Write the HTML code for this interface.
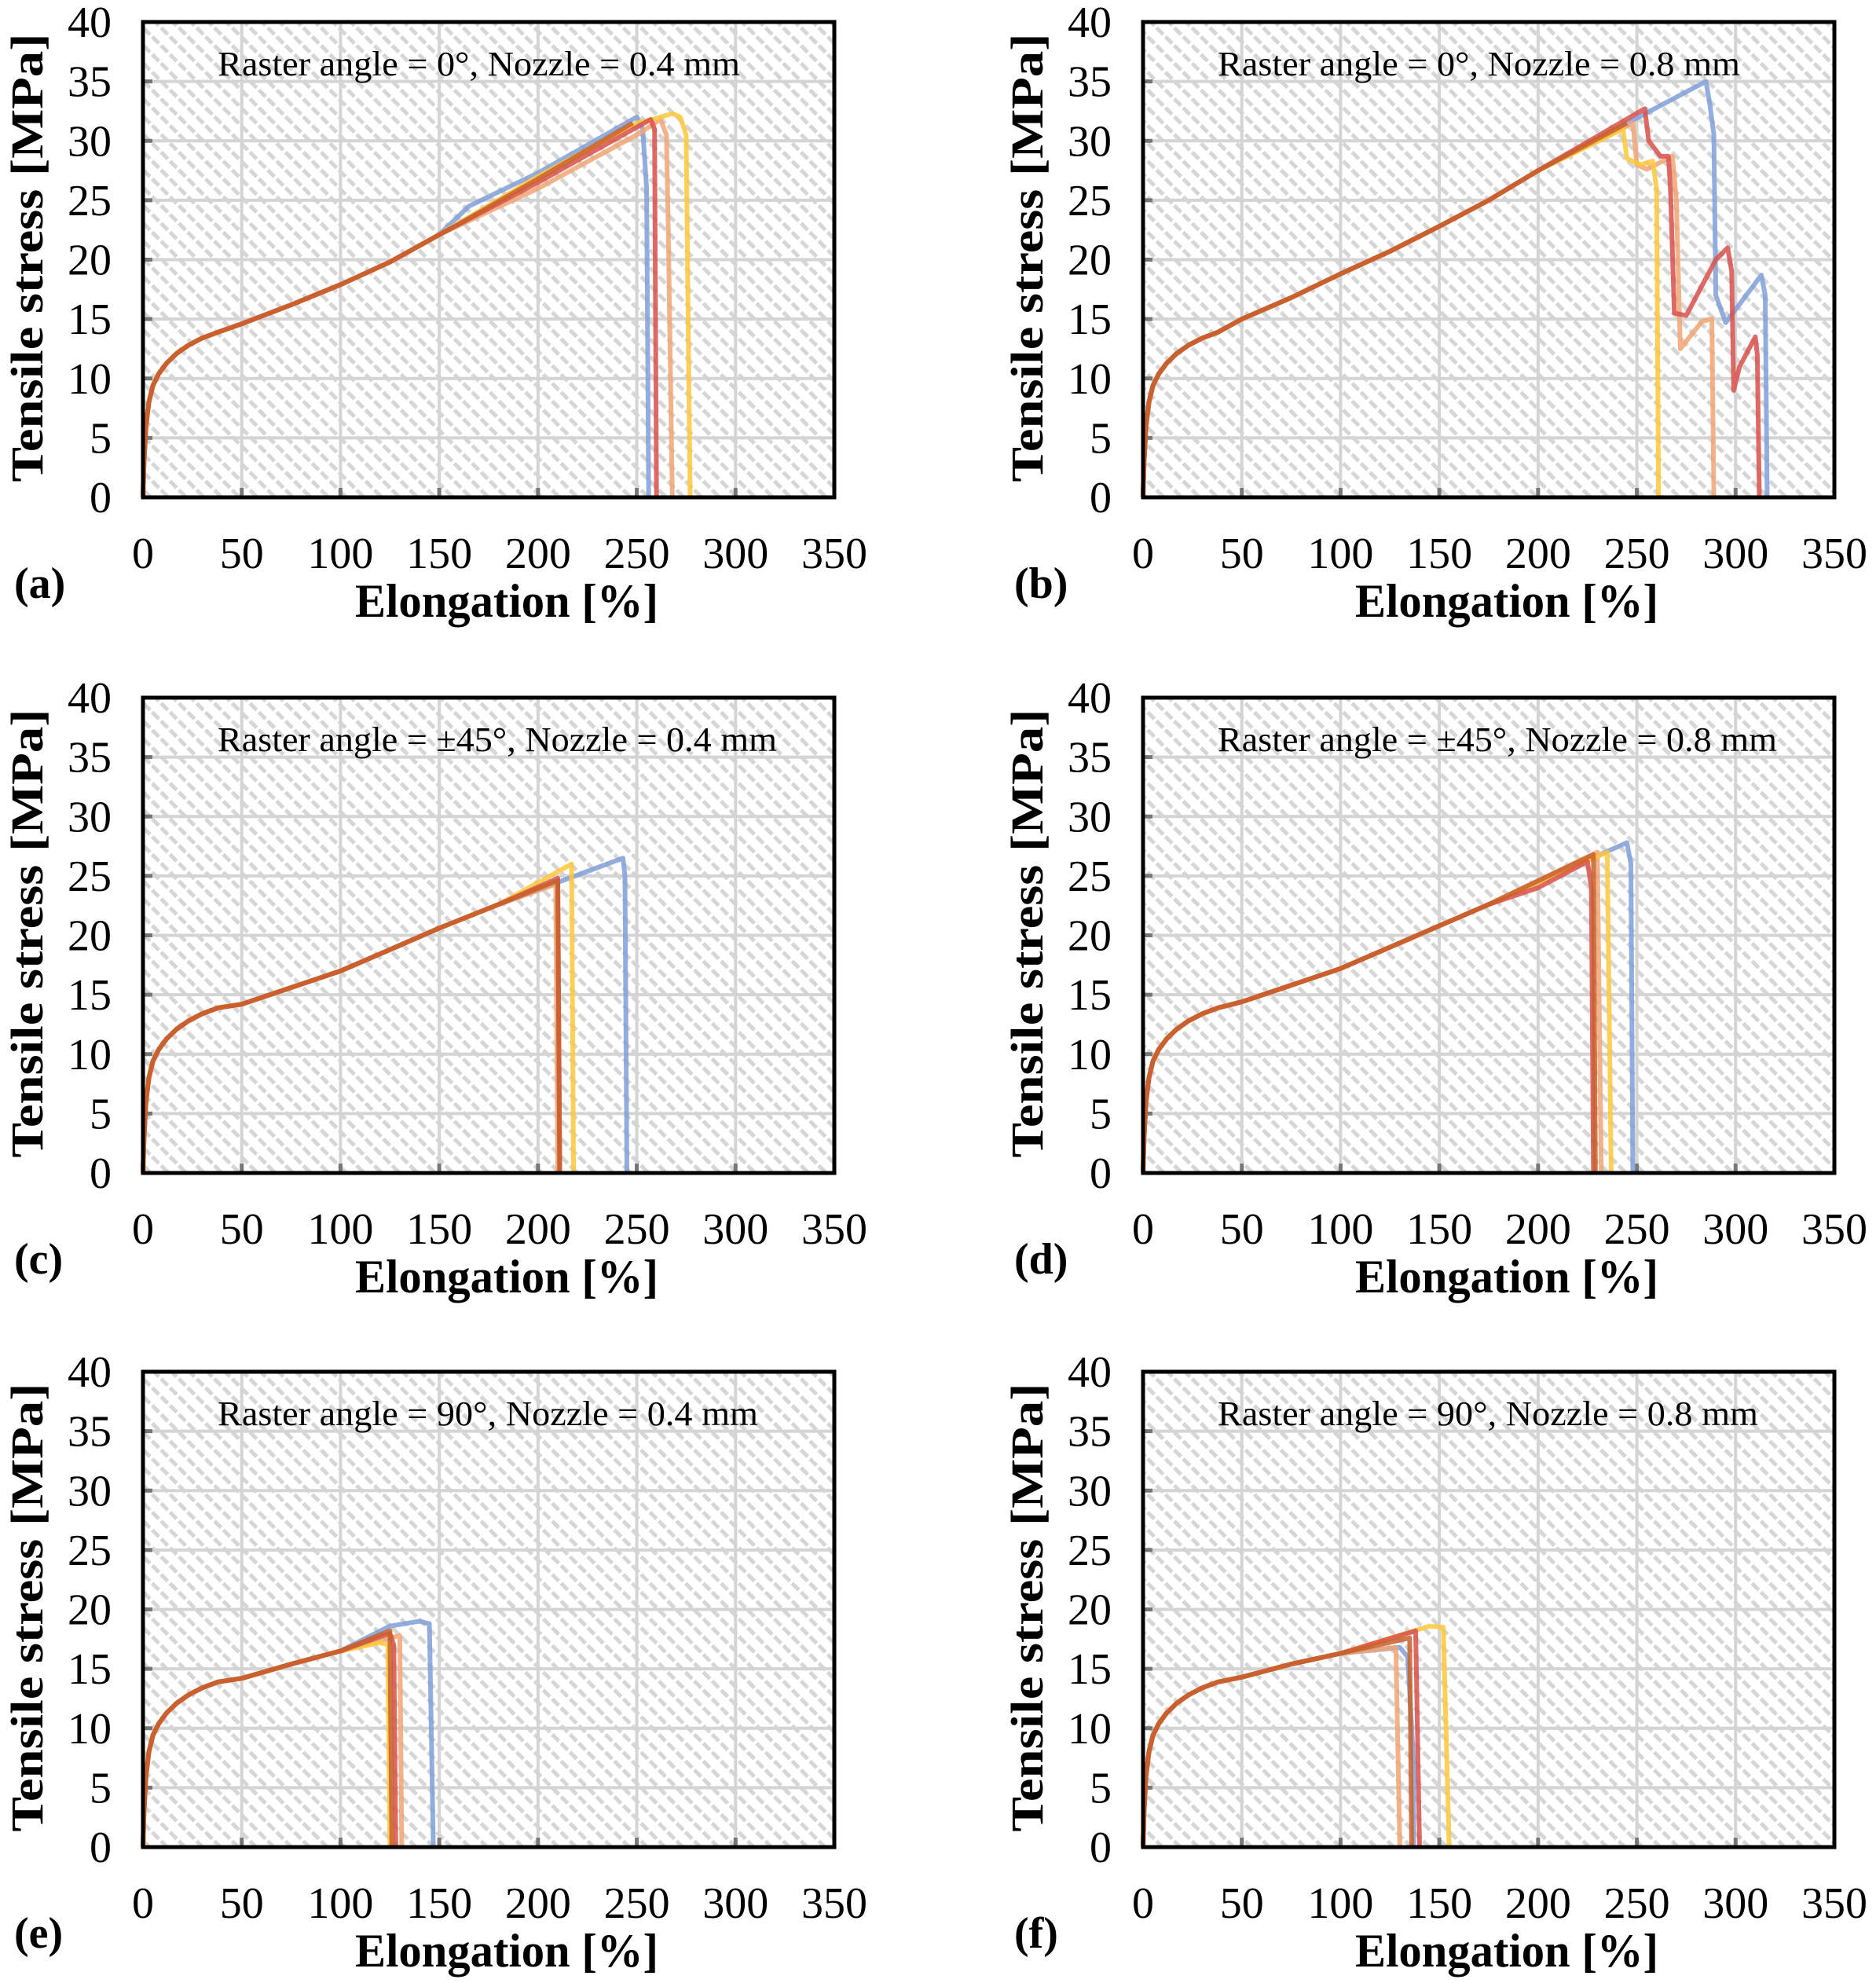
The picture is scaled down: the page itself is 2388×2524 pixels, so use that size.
<!DOCTYPE html>
<html><head><meta charset="utf-8"><style>
html,body{margin:0;padding:0;background:#fff;}
svg{display:block;}
text{font-family:"Liberation Serif",serif;fill:#000;}
</style></head>
<body>
<svg id="fig" width="2388" height="2524" viewBox="0 0 2388 2524" xmlns="http://www.w3.org/2000/svg">
<defs>
<pattern id="hatch" width="16" height="16" patternUnits="userSpaceOnUse" patternTransform="rotate(-45)">
<line x1="8" y1="0" x2="8" y2="16" stroke="#d6d6d6" stroke-width="5" stroke-dasharray="6 4"/>
</pattern>
</defs>
</svg>
<script>
const xTicks=[0,50,100,150,200,250,300,350];
const yTicks=[0,5,10,15,20,25,30,35,40];
const panelLetters=["(a)","(b)","(c)","(d)","(e)","(f)"];
const panelTitles=["Raster angle = 0°,  Nozzle  = 0.4  mm","Raster angle = 0°,  Nozzle  = 0.8  mm","Raster angle = ±45°,  Nozzle  = 0.4  mm","Raster angle = ±45°,  Nozzle  = 0.8  mm","Raster angle = 90°,  Nozzle  = 0.4  mm","Raster angle = 90°,  Nozzle  = 0.8  mm"];
const seriesNames=["blue","red","salmon","yellow","dark"];
const seriesColors=["#7f9fd8","#d9504a","#f2a474","#ffc83a","#c8602a"];
// shared initial curve (elongation %, stress MPa)
const startX=[0,0.5,1.5,3,5,8,12,17,23,30,38];
const startY=[0,3,6,8,9.4,10.4,11.3,12.1,12.8,13.4,13.9];
// panel (a)
const aBaseX=[50,75,100,125,150];
const aBaseY=[14.6,16.2,17.9,19.8,22.1];
const aTailsX=[[165,200,250,253,255,256],[200,257,259,260],[200,250,262,265,266,268],[200,250,258,268,272,275,277],[160,200,248]];
const aTailsY=[[24.5,27.3,32,31,26,0],[26.5,31.8,31,0],[26,30.5,31.8,30.5,22,0],[27,31.5,31.8,32.3,32,30.5,0],[23,26.8,31.5]];
// panel (b)
const bBaseX=[50,75,100,125,150,175,200];
const bBaseY=[15,16.8,18.8,20.7,22.8,25,27.5];
const bTailsX=[[285,287,289,290,295,313,315,316],[254,256,262,266,267,269,275,290,296,298,299,302,310,311,312],[248,250,255,268,270,272,283,288,289],[243,245,252,258,260,261],[245]];
const bTailsY=[[35,33,30.5,17,14.7,18.7,17,0],[32.7,30,28.7,28.7,26,15.5,15.3,20,21,19,9,11,13.5,12,0],[31.5,28,27.6,28.7,25,12.5,14.8,15,0],[31,28.5,28,28.3,26,0],[31.5]];
// panel (c)
const cBaseX=[50,75,100,125,150,180];
const cBaseY=[14.2,15.6,17,18.8,20.6,22.6];
const cTailsX=[[243,244,245],[210,211],[209,210],[217,218],[210,211]];
const cTailsY=[[26.5,25,0],[24.8,0],[24.3,0],[26,0],[24.6,0]];
// panel (d)
const dBaseX=[50,75,100,125,150,175];
const dBaseY=[14.4,15.8,17.2,19,20.8,22.6];
const dTailsX=[[245,247,248],[200,225,227,228],[230,232],[235,237],[228,229]];
const dTailsY=[[27.8,26,0],[24,26.2,24,0],[27,0],[27,0],[26.8,0]];
// panel (e)
const eBaseX=[50,75,100];
const eBaseY=[14.2,15.4,16.5];
const eTailsX=[[125,140,145,147],[125,127,128],[130,131],[120,124,125],[125,126]];
const eTailsY=[[18.6,19,18.8,0],[18,17,0],[17.8,0],[17.2,17,0],[18.2,0]];
// panel (f)
const fBaseX=[50,75,100];
const fBaseY=[14.3,15.4,16.3];
const fTailsX=[[130,134,137,137],[138,140],[128,130],[145,152,155],[135,136]];
const fTailsY=[[16.8,16,7,0],[18.2,0],[16.8,0],[18.6,18.5,0],[17.6,0]];

const panelBaseX=[aBaseX,bBaseX,cBaseX,dBaseX,eBaseX,fBaseX];
const panelBaseY=[aBaseY,bBaseY,cBaseY,dBaseY,eBaseY,fBaseY];
const panelTailsX=[aTailsX,bTailsX,cTailsX,dTailsX,eTailsX,fTailsX];
const panelTailsY=[aTailsY,bTailsY,cTailsY,dTailsY,eTailsY,fTailsY];

const NS="http://www.w3.org/2000/svg";
const svg=document.getElementById('fig');
function mk(tag,attrs,parent){const e=document.createElementNS(NS,tag);for(const k in attrs)e.setAttribute(k,attrs[k]);(parent||svg).appendChild(e);return e;}

const PW=880,PH=605;
const lefts=[182,1455];
const tops=[28,888,1746];
const drawOrder=[0,2,3,1,4];

for(let p=0;p<6;p++){
  const L=lefts[p%2],T=tops[Math.floor(p/2)];
  const g=mk('g',{});
  
  
  const xs=v=>L+v/350*PW;
  const ys=v=>T+PH-v/40*PH;
  const bg=mk('rect',{x:L,y:T,width:PW,height:PH,fill:'url(#hatch)'},g);
  
  
  for(const t of xTicks){if(t===0||t===350)continue;
    const l=mk('line',{x1:xs(t),x2:xs(t),y1:T,y2:T+PH,stroke:'#d4d4d4','stroke-width':4},g);
    
    }
  for(const t of yTicks){if(t===0||t===40)continue;
    const l=mk('line',{x1:L,x2:L+PW,y1:ys(t),y2:ys(t),stroke:'#d4d4d4','stroke-width':4},g);
    
    }
  for(const t of yTicks){const l=mk('line',{x1:L,x2:L+12,y1:ys(t),y2:ys(t),stroke:'#777','stroke-width':5},g);
    
    
    const tx=mk('text',{x:L-40,y:ys(t)+19,'font-size':56,'text-anchor':'end'},g);tx.textContent=t;
    
    }
  for(const t of xTicks){const l=mk('line',{x1:xs(t),x2:xs(t),y1:T+PH,y2:T+PH-12,stroke:'#777','stroke-width':5},g);
    
    
    const tx=mk('text',{x:xs(t),y:T+PH+90,'font-size':56,'text-anchor':'middle'},g);tx.textContent=t;
    
    }
  const bx=panelBaseX[p],by=panelBaseY[p];
  for(const s of drawOrder){
    const X=startX.concat(bx,panelTailsX[p][s]);
    const Y=startY.concat(by,panelTailsY[p][s]);
    const pts=X.map((x,i)=>xs(x).toFixed(1)+','+ys(Y[i]).toFixed(1)).join(' ');
    const pl=mk('polyline',{points:pts,fill:'none',stroke:seriesColors[s],'stroke-width':6,'stroke-opacity':0.85,'stroke-linejoin':'round'},g);
    
    
  }
  const fr=mk('rect',{x:L,y:T,width:PW,height:PH,fill:'none',stroke:'#000','stroke-width':5},g);
  
  
  const ti=mk('text',{x:L+95,y:T+68,'font-size':44,textLength:(p<2?665:(p<4?712:688)),lengthAdjust:'spacingAndGlyphs'},g);
  ti.textContent=panelTitles[p];
  
  
  const xl=mk('text',{x:L+270,y:T+PH+152,'font-size':60,'font-weight':'bold',textLength:386,lengthAdjust:'spacingAndGlyphs'},g);
  xl.textContent='Elongation [%]';
  
  
  const pl2=mk('text',{x:L-164,y:T+PH+128,'font-size':56,'font-weight':'bold'},g);
  pl2.textContent=panelLetters[p];
  
  
  const yt=mk('text',{x:0,y:0,'font-size':58,'font-weight':'bold','text-anchor':'middle',textLength:571,lengthAdjust:'spacingAndGlyphs',transform:'translate('+(L-128)+','+(T+300)+') rotate(-90)'},g);
  yt.textContent='Tensile stress [MPa]';
  
  
}
</script>
</body></html>
